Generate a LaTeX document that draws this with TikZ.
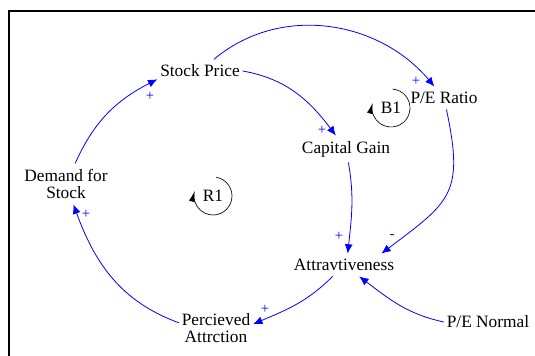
\documentclass[tikz,border=0pt]{standalone}
\usepackage{fontspec}
\setmainfont{Liberation Serif}
\usetikzlibrary{arrows.meta}

\begin{document}
\begin{tikzpicture}[
  x = 0.75pt, y = 0.75pt,
  font = \fontsize{13}{13}\selectfont,
  %
  % ── Styles ──────────────────────────────────────────────────────
  var/.style        = {align=center, inner xsep=2pt, inner ysep=4pt},
  link/.style       = {-{Latex[length=7pt,width=6pt]}, blue, line width=0.6pt},
  pol/.style        = {text=blue, font=\fontsize{11}{11}\selectfont, inner sep=0pt},
  loopmark/.style   = {-{Latex[length=8pt,width=4.5pt]}, line width=0.5pt},
  borderline/.style = {line width=1.5pt},
]

\useasboundingbox (0,0) rectangle (535,356);

%% ═══════════════════════════════════════════════════════════════════
%% FRAME
%% ═══════════════════════════════════════════════════════════════════

\draw[borderline] (9,0) -- (9,345) -- (535,345);

%% ═══════════════════════════════════════════════════════════════════
%% VARIABLES
%% ═══════════════════════════════════════════════════════════════════

\node[var] (sp) at (200,285) {Stock Price};
\node[var] (pe) at (444,258) {P/E Ratio};
\node[var] (cg) at (346,207) {Capital Gain};
\node[var] (ds) at (66,172)  {Demand for\\Stock};
\node[var] (at) at (344,91)  {Attravtiveness};
\node[var] (pa) at (216,28)  {Percieved\\Attrction};
\node[var] (pn) at (488,34)  {P/E Normal};

%% ── Links ────────────────────────────────────────────────────────
\draw[link] (ds)      to[out=66,  in=-153] (sp.191);
\draw[link] (sp)      to[out=40,  in=130]  (pe);
\draw[link] (sp.east) to[out=-10, in=127]  (cg);
\draw[link] (cg)      to[out=-80, in=84]   (at.72);
\draw[link] (pe)      to[out=-78, in=37, looseness=1.4] (at.17);
\draw[link] (pn.west) to[out=168, in=-37]  (at);
\draw[link] (at)      to[out=-135, in=23]  (pa.6);
\draw[link] (pa.172)  to[out=160, in=-70]  (ds);

%% ── Polarities ───────────────────────────────────────────────────
\node[pol] (pol-ds-sp) at (150,260) {+};
\node[pol] (pol-sp-pe) at (416,275) {+};
\node[pol] (pol-sp-cg) at (322,226) {+};
\node[pol] (pol-cg-at) at (339,120) {+};
\node[pol] (pol-pe-at) at (392,119) {-};
\node[pol] (pol-at-pa) at (265,47)  {+};
\node[pol] (pol-pa-ds) at (86,142)  {+};

%% ═══════════════════════════════════════════════════════════════════
%% LOOP MARKERS
%% ═══════════════════════════════════════════════════════════════════

\node (r1) at (213,160) {R1};
\draw[loopmark] ([shift={(80:19)}]r1.center)
  arc[start angle=80, end angle=-195, radius=19];

\node (b1) at (391,248) {B1};
\draw[loopmark] ([shift={(85:19)}]b1.center)
  arc[start angle=85, end angle=-195, radius=19];

\end{tikzpicture}
\end{document}
